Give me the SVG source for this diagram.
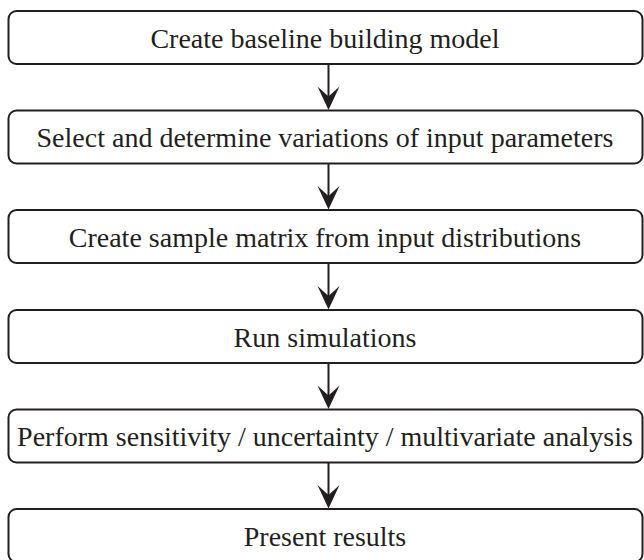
<svg xmlns="http://www.w3.org/2000/svg" width="644" height="560" viewBox="0 0 644 560">
<style>
.box{fill:#fff;stroke:#231f20;stroke-width:2}
.lbl{font-family:'Liberation Serif','Times New Roman',Tinos,'DejaVu Serif',serif;font-size:28px;fill:#231f20;text-anchor:middle}
.conn line{stroke:#231f20;stroke-width:2}
.conn path{fill:#231f20;stroke:none}
</style>
<rect width="644" height="560" fill="#fff"/>
<g id="conn" class="conn">
<line x1="328.5" y1="64" x2="328.5" y2="98"/>
<path d="M328.5,110 L317.5,86.5 L328.5,96.5 L339.5,86.5 Z"/>
<line x1="328.5" y1="163.5" x2="328.5" y2="197.5"/>
<path d="M328.5,209.5 L317.5,186 L328.5,196 L339.5,186 Z"/>
<line x1="328.5" y1="263" x2="328.5" y2="297"/>
<path d="M328.5,309.5 L317.5,286 L328.5,296 L339.5,286 Z"/>
<line x1="328.5" y1="363" x2="328.5" y2="397"/>
<path d="M328.5,409 L317.5,385.5 L328.5,395.5 L339.5,385.5 Z"/>
<line x1="328.5" y1="462.5" x2="328.5" y2="496.5"/>
<path d="M328.5,508.5 L317.5,485 L328.5,495 L339.5,485 Z"/>
</g>
<g id="n1"><rect class="box" x="8.5" y="11" width="634" height="53" rx="8"/><text class="lbl" x="325" y="47.5" font-family="Liberation Serif, serif">Create baseline building model</text></g>
<g id="n2"><rect class="box" x="8.5" y="110.5" width="634" height="53" rx="8"/><text class="lbl" x="325" y="147" font-family="Liberation Serif, serif">Select and determine variations of input parameters</text></g>
<g id="n3"><rect class="box" x="8.5" y="210" width="634" height="53" rx="8"/><text class="lbl" x="325" y="246.5" font-family="Liberation Serif, serif">Create sample matrix from input distributions</text></g>
<g id="n4"><rect class="box" x="8.5" y="310" width="634" height="53" rx="8"/><text class="lbl" x="325" y="346.5" font-family="Liberation Serif, serif">Run simulations</text></g>
<g id="n5"><rect class="box" x="8.5" y="409.5" width="634" height="53" rx="8"/><text class="lbl" x="325" y="446" font-family="Liberation Serif, serif">Perform sensitivity / uncertainty / multivariate analysis</text></g>
<g id="n6"><rect class="box" x="8.5" y="509" width="634" height="53" rx="8"/><text class="lbl" x="325" y="545.5" font-family="Liberation Serif, serif">Present results</text></g>
</svg>
